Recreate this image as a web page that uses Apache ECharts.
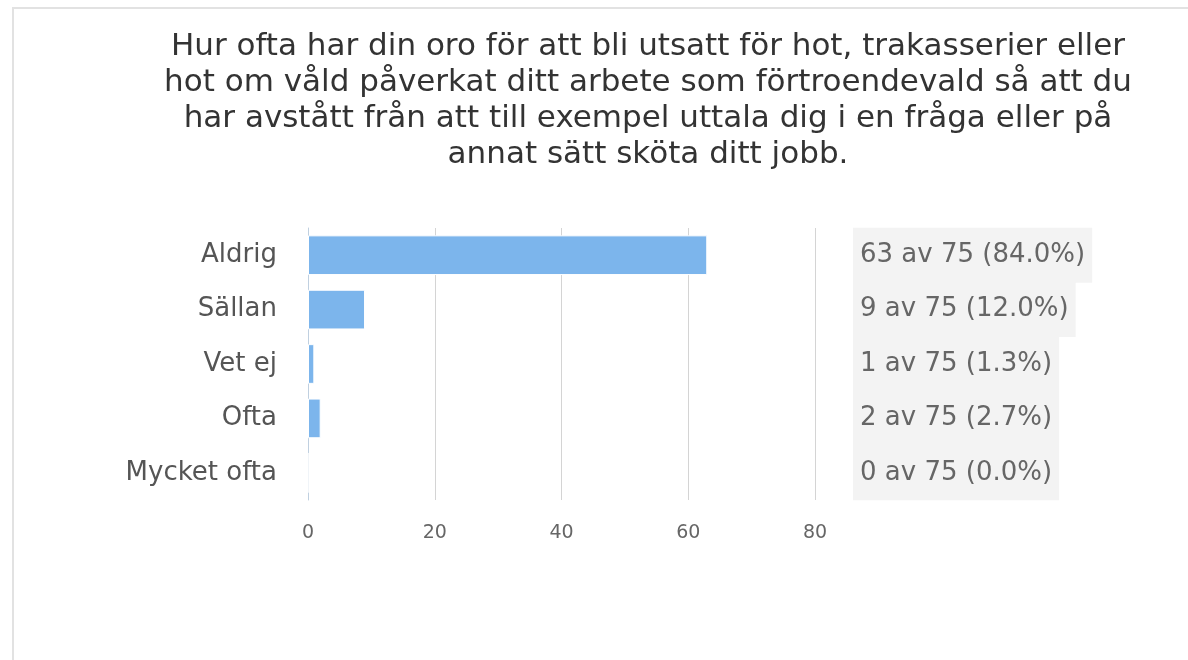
<!DOCTYPE html>
<html>
<head>
    <meta charset="utf-8">
    <title>Oro för hot</title>
    <script src="https://cdn.jsdelivr.net/npm/echarts@6/dist/echarts.min.js"></script>
    <style>
        body { margin: 0; background: #fff; }
        #frame { position: absolute; left: 12px; top: 7px; width: 1176px; height: 653px;
                 border-top: 2px solid #e2e2e2; border-left: 2px solid #e2e2e2; pointer-events: none; }
    </style>
</head>
<body>
<div id="chart1" style="width:1188px;height:660px;"></div>
<div id="frame"></div>
<script type="text/javascript">
    // svarsalternativ och antal svar
    var categories = ['Aldrig', 'Sällan', 'Vet ej', 'Ofta', 'Mycket ofta'];
    var counts = [63, 9, 1, 2, 0];
    var total = 75;
    var xTicks = [0, 20, 40, 60, 80];

    var titleText = 'Hur ofta har din oro för att bli utsatt för hot, trakasserier eller\n' +
        'hot om våld påverkat ditt arbete som förtroendevald så att du\n' +
        'har avstått från att till exempel uttala dig i en fråga eller på\n' +
        'annat sätt sköta ditt jobb.';

    var font = '"DejaVu Sans", sans-serif';
    var myChart1 = echarts.init(document.getElementById('chart1'));

    myChart1.setOption({
        animation: false,
        title: {
            text: titleText,
            left: 643,
            top: 24,
            textAlign: 'center',
            textStyle: {
                fontFamily: font,
                fontSize: 31,
                fontWeight: 'normal',
                color: '#333',
                lineHeight: 36
            }
        },
        grid: {
            left: 308,
            right: 373,
            top: 228,
            bottom: 160,
            containLabel: false
        },
        xAxis: {
            type: 'value',
            min: xTicks[0],
            max: xTicks[xTicks.length - 1],
            interval: 20,
            axisLine: { show: false },
            axisTick: { show: false },
            splitLine: { lineStyle: { color: '#d4d4d4', width: 1 } },
            axisLabel: {
                margin: 24,
                fontFamily: font,
                fontSize: 19,
                color: '#666'
            }
        },
        yAxis: [{
            type: 'category',
            data: categories,
            inverse: true,
            axisLine: { show: true, lineStyle: { color: '#c0d0e0' } },
            axisTick: { show: false },
            axisLabel: {
                interval: 0,
                margin: 31,
                fontFamily: font,
                fontSize: 26,
                color: '#555'
            }
        }, {
            type: 'category',
            data: categories,
            inverse: true,
            position: 'right',
            axisLine: { show: false },
            axisTick: { show: false },
            axisLabel: {
                interval: 0,
                hideOverlap: false,
                showMinLabel: true,
                showMaxLabel: true,
                margin: 38,
                fontFamily: font,
                fontSize: 26,
                color: '#666',
                lineHeight: 26,
                backgroundColor: '#f3f3f3',
                padding: [15, 7, 14, 7],
                formatter: function (value, index) {
                    var c = counts[index];
                    return c + ' av ' + total + ' (' + (c / total * 100).toFixed(1) + '%)';
                }
            }
        }],
        series: [{
            name: 'Antal',
            type: 'bar',
            data: counts,
            barCategoryGap: '27%',
            itemStyle: {
                color: '#7cb5ec',
                borderColor: '#ffffff',
                borderWidth: 1
            }
        }]
    });
</script>
</body>
</html>
